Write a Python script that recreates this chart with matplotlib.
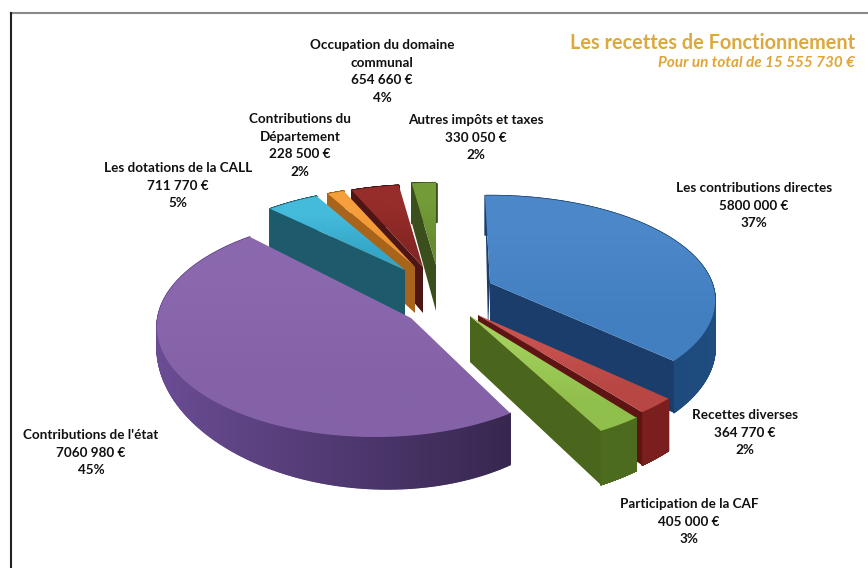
import numpy as np
import matplotlib
matplotlib.use("Agg")
import matplotlib.pyplot as plt
from matplotlib.collections import PolyCollection
from matplotlib.colors import to_rgb
from matplotlib.patches import Polygon

plt.rcParams['font.family'] = ['Lato', 'DejaVu Sans']

# data
names = ["Les contributions directes", "Recettes diverses", "Participation de la CAF",
         "Contributions de l'état", "Les dotations de la CALL",
         "Contributions du\nDépartement", "Occupation du domaine\ncommunal",
         "Autres impôts et taxes"]
values = [5800000, 364770, 405000, 7060980, 711770, 228500, 654660, 330050]
percents = [37, 2, 3, 45, 5, 2, 4, 2]
title = "Les recettes de Fonctionnement"
subtitle = "Pour un total de 15 555 730 €"

# slice placement on the page: apex x, apex y, radius x, radius y, perspective, rotation
shapes = [(490, 283, 222, 102, .166, -1.5),
          (478, 315, 235, 106, .166, 0),
          (470, 316, 238, 111, .166, 0),
          (411, 318, 218, 110, 0, -10.4),
          (405, 270, 215, 96, .166, 0),
          (415, 267, 212, 95, .166, 0),
          (423, 267, 212, 96, .166, 0),
          (436, 265, 212, 96, .166, 0)]
# the big slice is not drawn round its apex in the original
arc_shift = {3: (-36, 9)}
arc_stretch = {3: 1.122}
# thickness of the big slice changes along its rim: base, front, right
rim = {3: (28, .85, .27)}
# top light, top dark, side at left, side at right, flat side, which flat side
colors = [("#4c88c9", "#427fc0", "#1b3f6e", "#1f4d80", "#1b3d6b", "end"),
          ("#c9524f", "#b84744", "#7a1f1d", "#7a1f1d", "#5e1412", "end"),
          ("#a2cf5c", "#90bf4c", "#4c6b1e", "#4c6b1e", "#4a661c", "end"),
          ("#8b68ad", "#8562a8", "#6a4c94", "#37274f", "#2f2147", None),
          ("#45bbdc", "#35a6c8", "#1f6073", "#1f6073", "#1c5a6c", "start"),
          ("#f5a03c", "#ec9430", "#a8641a", "#a8641a", "#a8641a", "start"),
          ("#962d2a", "#862624", "#4d1514", "#4d1514", "#4d1514", "start"),
          ("#739c38", "#678c30", "#3a4f1c", "#3a4f1c", "#3a4f1c", "start")]
label_pos = [(754, 189), (745, 416), (689, 505), (91, 436),
             (178, 169), (300, 120), (382, 46), (476, 121)]
DEPTH = 46


def euros(v):
    return "%d %03d €" % (v // 1000, v % 1000)


def project(i, theta, start):
    px, py, rx, ry, p, rot = shapes[i]
    ox, oy = arc_shift.get(i, (0, 0))
    a = np.radians(start + (np.asarray(theta) - start) * arc_stretch.get(i, 1) + rot)
    u, v = np.sin(a), -np.cos(a)
    w = 1 - p * v
    base, front, right = rim.get(i, (DEPTH, 0, 0))
    return px + ox + rx * u / w, py + oy + ry * v / w, base / w * (1 + front * v + right * u)


def fill_gradient(ax, pts, top, bottom, z):
    patch = Polygon(pts, closed=True, facecolor="none", edgecolor="none", zorder=z)
    ax.add_patch(patch)
    grad = np.array([[to_rgb(top)], [to_rgb(bottom)]])
    xs, ys = pts[:, 0], pts[:, 1]
    im = ax.imshow(grad, extent=(xs.min(), xs.max(), ys.max(), ys.min()), origin="upper",
                   interpolation="bilinear", aspect="auto", zorder=z)
    im.set_clip_path(patch)


fig = plt.figure(figsize=(8.68, 5.68), dpi=100)
ax = fig.add_axes([0, 0, 1, 1])

total = sum(values)
edges = np.concatenate([[0], np.cumsum(values)]) / total * 360
# back to front, the left hand slices overlap each other
order = [0, 1, 2, 7, 6, 5, 4, 3]

z = 2
for i in order:
    t = np.linspace(edges[i], edges[i + 1], 400)
    x, y, d = project(i, t, edges[i])
    ax_, ay, ad = shapes[i][0], shapes[i][1], DEPTH
    c = colors[i]

    # outer curved side, cut in thin strips so that the shade can change
    quads, shade = [], []
    c1, c2 = np.array(to_rgb(c[2])), np.array(to_rgb(c[3]))
    for k in range(len(t) - 1):
        quads.append([(x[k], y[k]), (x[k + 1], y[k + 1]),
                      (x[k + 1], y[k + 1] + d[k + 1]), (x[k], y[k] + d[k])])
        f = (x[k] - x.min()) / max(x.max() - x.min(), 1)
        shade.append(c1 + (c2 - c1) * f)
    ax.add_collection(PolyCollection(quads, facecolors=shade, edgecolors=shade,
                                     linewidths=1, zorder=z))
    z += 1

    # flat side that faces the reader
    if c[5] == "end":
        ax.fill([ax_, x[-1], x[-1], ax_], [ay, y[-1], y[-1] + d[-1], ay + ad],
                color=c[4], lw=0, zorder=z)
    elif c[5] == "start":
        ax.fill([ax_, x[0], x[0], ax_], [ay, y[0], y[0] + d[0], ay + ad],
                color=c[4], lw=0, zorder=z)
    if i == 0:
        ax.fill([x[0], ax_, ax_ - 2], [y[0], ay, ay + ad], color=c[4], lw=0, zorder=z)
    z += 1

    pts = np.column_stack([np.r_[ax_, x], np.r_[ay, y]])
    fill_gradient(ax, pts, c[0], c[1], z)
    z += 1

# page frame
ax.plot([11, 868], [13, 13], color="#8a8a8a", lw=1.5, zorder=z)
ax.plot([11, 11], [13, 568], color="#222222", lw=1.5, zorder=z)

for name, v, pc, pos in zip(names, values, percents, label_pos):
    ax.text(pos[0], pos[1] - 7, "%s\n%s\n%d%%" % (name, euros(v), pc), ha="center", va="top",
            fontsize=9.7, fontweight="bold", color="#111111", linespacing=1.56, zorder=z)

ax.text(855, 43, title, ha="right", va="center", fontsize=14.3, fontweight="bold",
        color="#dda83c", zorder=z)
ax.text(855, 63, subtitle, ha="right", va="center", fontsize=11, style="italic",
        fontweight="bold", color="#dfa535", zorder=z)

ax.set_xlim(0, 868)
ax.set_ylim(568, 0)
ax.axis("off")
fig.savefig("out.png", dpi=100, facecolor="white")
